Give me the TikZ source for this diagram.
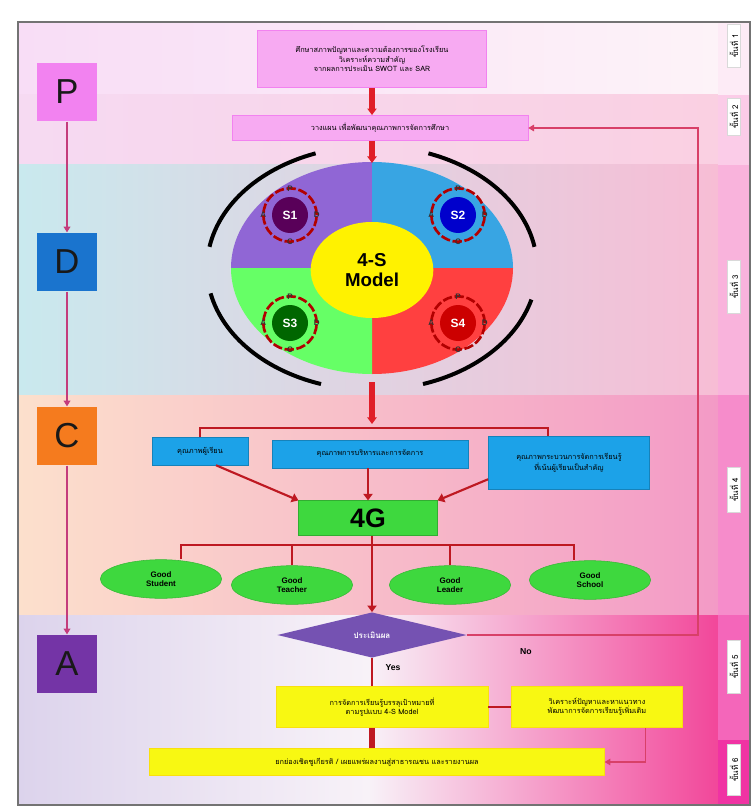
\documentclass[tikz,border=0pt]{standalone}
\usepackage{fontspec}
\setmainfont{Liberation Sans}
\newfontfamily\thai[Script=Thai]{Loma}
\usepackage{tikz}
\usepackage{xcolor}
\usetikzlibrary{arrows.meta,shapes.geometric}
\definecolor{pcol}{HTML}{F282F0}
\definecolor{dcol}{HTML}{1A74CE}
\definecolor{ccol}{HTML}{F57B1E}
\definecolor{acol}{HTML}{7434A6}
\definecolor{lnk}{HTML}{C43C7C}
\definecolor{arr}{HTML}{E01E28}
\definecolor{fbk}{HTML}{D84068}
\definecolor{boxpk}{HTML}{F7AAF2}
\definecolor{skyb}{HTML}{1CA2E8}
\definecolor{grn}{HTML}{3ED83E}
\definecolor{ylw}{HTML}{F8F812}
\definecolor{dia}{HTML}{7552B2}
\definecolor{bgpa}{HTML}{F8DDF6}
\definecolor{bgpb}{HTML}{FDF3F8}
\definecolor{bgqa}{HTML}{F6DAF2}
\definecolor{bgqb}{HTML}{FAD0E2}
\definecolor{bgda}{HTML}{C9E9EE}
\definecolor{bgdb}{HTML}{F7BDD5}
\definecolor{bgca}{HTML}{FCE0CC}
\definecolor{bgcb}{HTML}{F39AC6}
\definecolor{bgaa}{HTML}{DCD3EC}
\definecolor{bgam}{HTML}{F8F2F8}
\definecolor{bgab}{HTML}{F2479A}
\tikzset{%
  tipA/.tip={Triangle[angle=70:6pt]},
  tipB/.tip={Triangle[angle=60:5pt]},
  pdca/.style={draw=none, minimum width=45pt, minimum height=44pt, inner sep=0pt, text=black!90, font=\fontsize{26}{26}\selectfont},
  thtext/.style={font=\thai\fontsize{5.5}{7}\selectfont, align=center, inner sep=1pt},
  redarr/.style={arr, line width=4pt, -tipA},
  redln/.style={arr!85!black, line width=1.6pt},
  fbline/.style={fbk, line width=0.8pt},
  sdot/.style={circle, minimum size=27pt, inner sep=0pt, text=white, font=\bfseries\fontsize{9}{9}\selectfont},
  tag/.style={fill=white, draw=black!15, rotate=90, font=\thai\fontsize{6}{7}\selectfont, inner sep=1.5pt},
}
\begin{document}
\begin{tikzpicture}[x=0.75pt,y=-0.75pt]
\useasboundingbox (0,0) rectangle (754,809);
\fill[white] (0,0) rectangle (754,809);
% background bands
\shade[left color=bgpa, right color=bgpb] (18,22) rectangle (718,95);
\shade[left color=bgqa, right color=bgqb] (18,95) rectangle (718,165);
\shade[left color=bgda, right color=bgdb] (18,165) rectangle (718,395);
\shade[left color=bgca, right color=bgcb] (18,395) rectangle (718,615);
\shade[left color=bgaa, right color=bgab, middle color=bgam] (18,615) rectangle (718,805);
\fill[magenta!8] (718,22) rectangle (750,95);
\fill[magenta!20] (718,95) rectangle (750,165);
\fill[magenta!30] (718,165) rectangle (750,395);
\fill[magenta!45] (718,395) rectangle (750,615);
\fill[magenta!60] (718,615) rectangle (750,740);
\fill[magenta!80] (718,740) rectangle (750,805);
\draw[black!55, line width=1.5pt] (18,22) rectangle (750,805);
% stage tags on the right
\node[tag, minimum width=32pt] (t1) at (734,46) {ขั้นที่ 1};
\node[tag, minimum width=28pt] (t2) at (734,117) {ขั้นที่ 2};
\node[tag, minimum width=40pt] (t3) at (734,287) {ขั้นที่ 3};
\node[tag, minimum width=34pt] (t4) at (734,490) {ขั้นที่ 4};
\node[tag, minimum width=40pt] (t5) at (734,667) {ขั้นที่ 5};
\node[tag, minimum width=38pt] (t6) at (734,770) {ขั้นที่ 6};
% PDCA column
\node[pdca, fill=pcol] (P) at (67,92) {P};
\node[pdca, fill=dcol] (D) at (67,262) {D};
\node[pdca, fill=ccol] (C) at (67,436) {C};
\node[pdca, fill=acol] (A) at (67,664) {A};
\draw[lnk, line width=1.4pt, -tipB] (P) -- (D);
\draw[lnk, line width=1.4pt, -tipB] (D) -- (C);
\draw[lnk, line width=1.4pt, -tipB] (C) -- (A);
% planning boxes
\node[thtext, fill=boxpk, draw=pcol, minimum width=172pt, minimum height=43pt] (study) at (372,59)
  {ศึกษาสภาพปัญหาและความต้องการของโรงเรียน\\วิเคราะห์ความสำคัญ\\จากผลการประเมิน SWOT และ SAR};
\node[thtext, fill=boxpk, draw=pcol, minimum width=222pt, minimum height=19pt] (plan) at (380,128)
  {วางแผน เพื่อพัฒนาคุณภาพการจัดการศึกษา};
\draw[redarr] (study.south) -- (study.south |- plan.north);
% 4-S model wheel
\coordinate (hub) at (372,268);
\fill[violet!55!blue!60!white] (hub) -- ++(-141,0) arc[start angle=180, end angle=270, x radius=141, y radius=106] -- cycle;
\fill[cyan!80!blue!80] (hub) -- ++(0,-106) arc[start angle=270, end angle=360, x radius=141, y radius=106] -- cycle;
\fill[red!75] (hub) -- ++(141,0) arc[start angle=0, end angle=90, x radius=141, y radius=106] -- cycle;
\fill[green!60] (hub) -- ++(0,106) arc[start angle=90, end angle=180, x radius=141, y radius=106] -- cycle;
\node[ellipse, fill=yellow, minimum width=92pt, minimum height=72pt, align=center, font=\bfseries\fontsize{14}{15}\selectfont] (model) at (372,270) {4-S\\Model};
\draw[redarr] (study.south |- plan.south) -- (372,163);
% outer arcs
\draw[black, line width=3pt] ([shift={(190:165 and 122)}]hub) arc[start angle=190, end angle=250, x radius=165, y radius=122];
\draw[black, line width=3pt] ([shift={(290:165 and 122)}]hub) arc[start angle=290, end angle=350, x radius=165, y radius=122];
\draw[black, line width=3pt] ([shift={(15:165 and 122)}]hub) arc[start angle=15, end angle=72, x radius=165, y radius=122];
\draw[black, line width=3pt] ([shift={(108:165 and 122)}]hub) arc[start angle=108, end angle=168, x radius=165, y radius=122];
% the four S cycles
\foreach \nm/\px/\py/\cl in {S1/290/215/violet!70!black, S2/458/215/blue!80!black, S3/290/323/green!40!black, S4/458/323/red!80!black}{
  \node[sdot, fill=\cl] (\nm) at (\px,\py) {\nm};
  \draw[red!70!black, line width=2pt, dash pattern=on 7pt off 2pt] (\nm) circle (20pt);
  \node[font=\bfseries\fontsize{6}{6}\selectfont, text=black!80, inner sep=0pt] at ([yshift=20pt]\nm) {P};
  \node[font=\bfseries\fontsize{6}{6}\selectfont, text=black!80, inner sep=0pt] at ([xshift=20pt]\nm) {D};
  \node[font=\bfseries\fontsize{6}{6}\selectfont, text=black!80, inner sep=0pt] at ([yshift=-20pt]\nm) {C};
  \node[font=\bfseries\fontsize{6}{6}\selectfont, text=black!80, inner sep=0pt] at ([xshift=-20pt]\nm) {A};
}
% check stage
\node[thtext, fill=skyb, draw=skyb!80!black, minimum width=72pt, minimum height=21pt] (cat1) at (200,451) {คุณภาพผู้เรียน};
\node[thtext, fill=skyb, draw=skyb!80!black, minimum width=147pt, minimum height=21pt] (cat2) at (370,454) {คุณภาพการบริหารและการจัดการ};
\node[thtext, fill=skyb, draw=skyb!80!black, minimum width=121pt, minimum height=40pt] (cat3) at (569,463) {คุณภาพกระบวนการจัดการเรียนรู้\\ที่เน้นผู้เรียนเป็นสำคัญ};
\coordinate (barL) at (200,428);
\coordinate (barR) at (548,428);
\draw[redarr] (372,382) -- (372,424);
\draw[redln] (cat1.north) -- (cat1.north |- barL) -- (barR) -- (barR |- cat3.north);
\node[fill=grn, draw=grn!80!black, minimum width=104pt, minimum height=26pt, inner sep=0pt, font=\bfseries\fontsize{20}{20}\selectfont] (fourG) at (368,518) {4G};
\draw[redln, -tipA] ([xshift=12pt]cat1.south) -- (fourG.north west);
\draw[redln, -tipA] (cat2.south -| fourG.north) -- (fourG.north);
\draw[redln, -tipA] ([yshift=8pt]cat3.south west) -- (fourG.north east);
\foreach \nm/\px/\py/\tx in {g1/161/579/Student, g2/292/585/Teacher, g3/450/585/Leader, g4/590/580/School}{
  \node[ellipse, fill=grn, draw=grn!85!black, minimum width=91pt, minimum height=29pt, inner sep=0pt, align=center, font=\bfseries\fontsize{6}{7}\selectfont] (\nm) at (\px,\py) {Good\\\tx};
}
\coordinate (gbar) at (372,545);
\draw[redln] ([xshift=15pt]g1.north) -- ([xshift=15pt]g1.north |- gbar) -- ([xshift=-12pt]g4.north |- gbar) -- ([xshift=-12pt]g4.north);
\draw[redln] (g2.north) -- (g2.north |- gbar);
\draw[redln] (g3.north) -- (g3.north |- gbar);
% act stage
\node[diamond, fill=dia, shape aspect=4.2, minimum width=142pt, minimum height=34pt, inner sep=0pt, text=white, font=\thai\bfseries\fontsize{6}{7}\selectfont] (judge) at (372,635) {ประเมินผล};
\draw[redln, -tipA] (judge.north |- fourG.south) -- (judge.north);
\coordinate (fbc) at (698,635);
\draw[fbline, -tipB] (judge.east) -- (fbc) |- (plan.east);
\node[font=\bfseries\fontsize{6.5}{7}\selectfont] (no) at (526,652) {No};
\node[font=\bfseries\fontsize{6.5}{7}\selectfont] (yes) at (393,668) {Yes};
\node[thtext, fill=ylw, draw=ylw!80!orange, minimum width=159pt, minimum height=31pt] (keep) at (382,707)
  {การจัดการเรียนรู้บรรลุเป้าหมายที่\\ตามรูปแบบ 4-S Model};
\node[thtext, fill=ylw, draw=ylw!80!orange, minimum width=128pt, minimum height=31pt] (fix) at (597,707)
  {วิเคราะห์ปัญหาและหาแนวทาง\\พัฒนาการจัดการเรียนรู้เพิ่มเติม};
\draw[redln] (judge.south) -- (keep.north -| judge.south);
\draw[redln] (keep) -- (fix);
\node[thtext, fill=ylw, draw=ylw!80!orange, minimum width=341pt, minimum height=20pt] (report) at (377,762)
  {ยกย่องเชิดชูเกียรติ / เผยแพร่ผลงานสู่สาธารณชน และรายงานผล};
\draw[redln, line width=4pt] (keep.south -| judge.south) -- (report.north -| judge.south);
\draw[fbline, -tipB] ([xshift=-28pt]fix.south east) |- (report.east);
\end{tikzpicture}
\end{document}
